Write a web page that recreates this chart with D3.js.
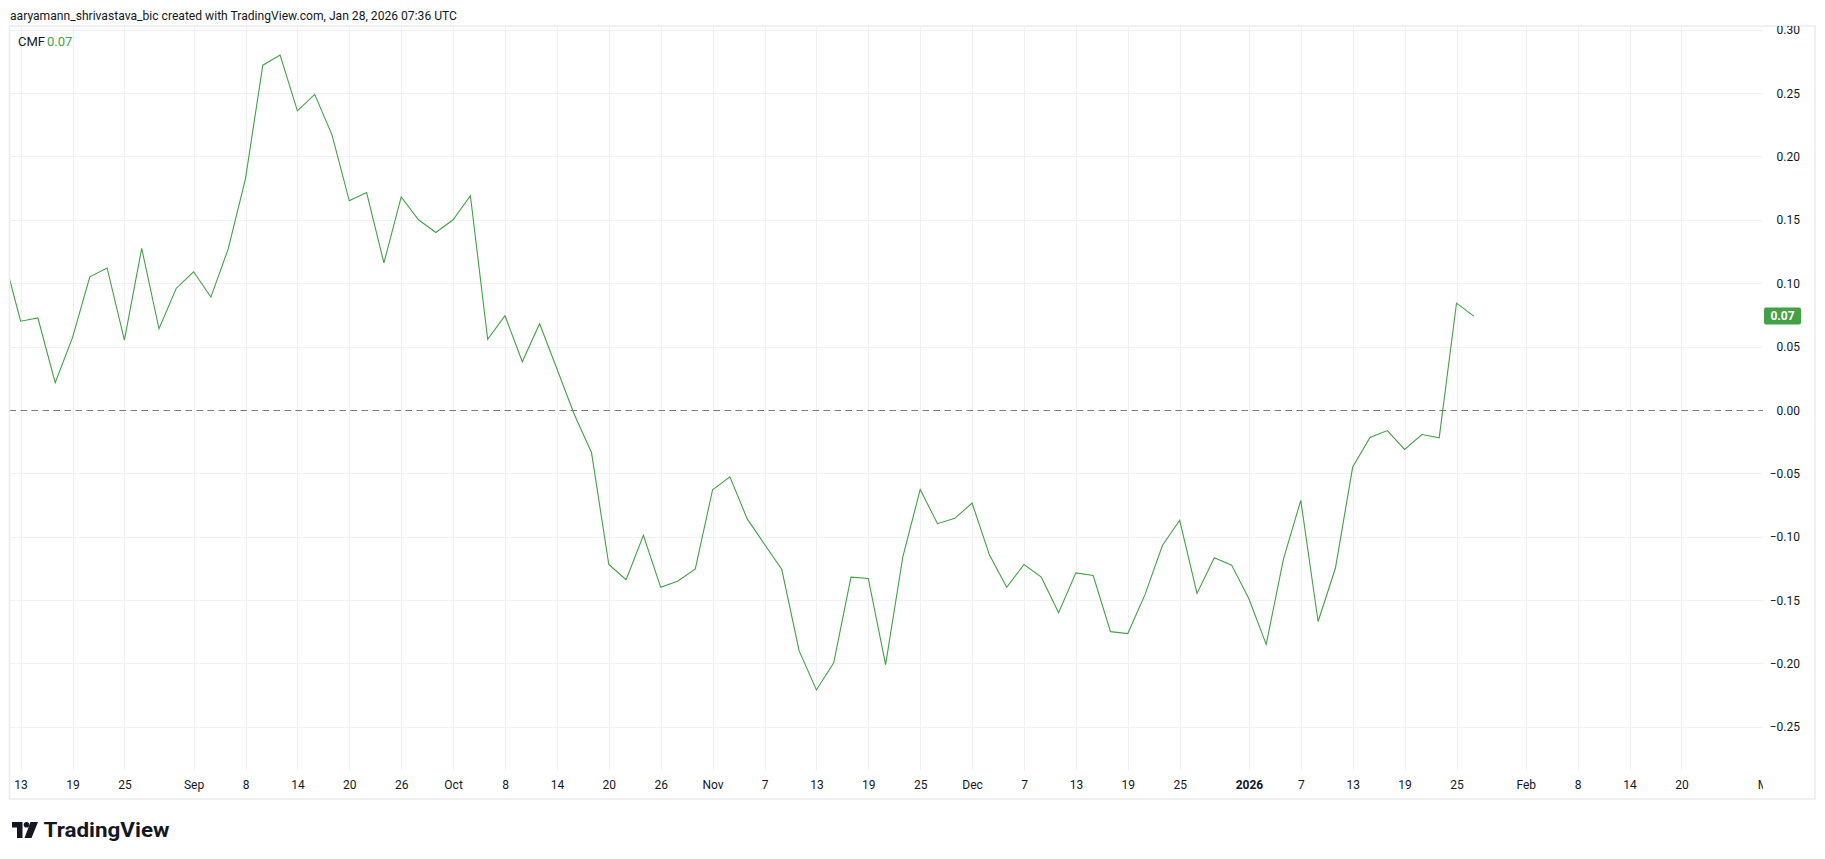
<!DOCTYPE html>
<html>
<head>
<meta charset="utf-8">
<script src="https://cdn.jsdelivr.net/npm/d3@7"></script>
<style>
	body { margin: 0; background: #fff; }
	svg { display: block; font-family: Roboto, "Liberation Sans", sans-serif; }
</style>
</head>
<body>
<div id="chart"></div>
<script>
// 2D bars (TradingView restarts the 2-day count on Jan 1)
var barDates = [
	"2025-08-11","2025-08-13","2025-08-15","2025-08-17","2025-08-19","2025-08-21","2025-08-23","2025-08-25","2025-08-27","2025-08-29","2025-08-31",
	"2025-09-02","2025-09-04","2025-09-06","2025-09-08","2025-09-10","2025-09-12","2025-09-14","2025-09-16","2025-09-18","2025-09-20","2025-09-22","2025-09-24","2025-09-26","2025-09-28","2025-09-30",
	"2025-10-02","2025-10-04","2025-10-06","2025-10-08","2025-10-10","2025-10-12","2025-10-14","2025-10-16","2025-10-18","2025-10-20","2025-10-22","2025-10-24","2025-10-26","2025-10-28","2025-10-30",
	"2025-11-01","2025-11-03","2025-11-05","2025-11-07","2025-11-09","2025-11-11","2025-11-13","2025-11-15","2025-11-17","2025-11-19","2025-11-21","2025-11-23","2025-11-25","2025-11-27","2025-11-29",
	"2025-12-01","2025-12-03","2025-12-05","2025-12-07","2025-12-09","2025-12-11","2025-12-13","2025-12-15","2025-12-17","2025-12-19","2025-12-21","2025-12-23","2025-12-25","2025-12-27","2025-12-29","2025-12-31",
	"2026-01-01","2026-01-03","2026-01-05","2026-01-07","2026-01-09","2026-01-11","2026-01-13","2026-01-15","2026-01-17","2026-01-19","2026-01-21","2026-01-23","2026-01-25","2026-01-27","2026-01-29","2026-01-31",
	"2026-02-02","2026-02-04","2026-02-06","2026-02-08","2026-02-10","2026-02-12","2026-02-14","2026-02-16","2026-02-18","2026-02-20","2026-02-22","2026-02-24","2026-02-26","2026-02-28",
	"2026-03-02"
];

var cmfValues = [
	0.122, 0.070, 0.0725, 0.0215, 0.057, 0.105, 0.112, 0.055, 0.1275, 0.064,
	0.096, 0.109, 0.089, 0.127, 0.1825, 0.272, 0.280, 0.236, 0.249, 0.217,
	0.165, 0.1715, 0.116, 0.168, 0.150, 0.140, 0.150, 0.169, 0.0556, 0.0743,
	0.038, 0.068, 0.0325, -0.0034, -0.0336, -0.122, -0.134, -0.099, -0.140, -0.135,
	-0.1255, -0.063, -0.0528, -0.086, -0.106, -0.126, -0.190, -0.221, -0.1996, -0.132,
	-0.133, -0.201, -0.1157, -0.0628, -0.0898, -0.0856, -0.0735, -0.1144, -0.140, -0.122,
	-0.132, -0.160, -0.1286, -0.1307, -0.175, -0.1765, -0.1456, -0.107, -0.0871, -0.1448,
	-0.1167, -0.1225, -0.149, -0.185, -0.1175, -0.0714, -0.167, -0.125, -0.0451, -0.0218,
	-0.0163, -0.0312, -0.0194, -0.022, 0.0842, 0.074
];

var tickDates = [
	"2025-08-13","2025-08-19","2025-08-25","2025-09-02","2025-09-08","2025-09-14","2025-09-20","2025-09-26",
	"2025-10-02","2025-10-08","2025-10-14","2025-10-20","2025-10-26","2025-11-01","2025-11-07","2025-11-13",
	"2025-11-19","2025-11-25","2025-12-01","2025-12-07","2025-12-13","2025-12-19","2025-12-25","2026-01-01",
	"2026-01-07","2026-01-13","2026-01-19","2026-01-25","2026-02-02","2026-02-08","2026-02-14","2026-02-20","2026-03-02"
];
var tickLabels = [
	"13","19","25","Sep","8","14","20","26",
	"Oct","8","14","20","26","Nov","7","13",
	"19","25","Dec","7","13","19","25","2026",
	"7","13","19","25","Feb","8","14","20","Mar"
];
var priceTicks = [0.30, 0.25, 0.20, 0.15, 0.10, 0.05, 0, -0.05, -0.10, -0.15, -0.20, -0.25];

var W = 1825, H = 859;
var pane = {left: 9.5, top: 26, right: 1763, bottom: 771};
var frame = {left: 9.5, top: 26, right: 1815, bottom: 799};
var green = "#43a047";
var textCol = "#131722";

var svg = d3.select("#chart").append("svg")
	.attr("width", W)
	.attr("height", H);

svg.append("rect").attr("width", W).attr("height", H).attr("fill", "#fff");

var xScale = d3.scalePoint()
	.domain(barDates)
	.range([3.3, 3.3 + 17.3 * (barDates.length - 1)]);
var yScale = d3.scaleLinear()
	.domain([-0.25, 0.30])
	.range([726.7, 29.7]);

var defs = svg.append("defs");
defs.append("clipPath").attr("id", "paneClip")
	.append("rect")
	.attr("x", pane.left).attr("y", pane.top)
	.attr("width", pane.right - pane.left).attr("height", pane.bottom - pane.top);
defs.append("clipPath").attr("id", "timeClip")
	.append("rect")
	.attr("x", pane.left).attr("y", pane.bottom)
	.attr("width", pane.right - pane.left).attr("height", frame.bottom - pane.bottom);
defs.append("clipPath").attr("id", "priceClip")
	.append("rect")
	.attr("x", pane.right).attr("y", pane.top)
	.attr("width", frame.right - pane.right).attr("height", frame.bottom - pane.top);

// header
svg.append("text")
	.attr("x", 10).attr("y", 15)
	.attr("dy", "0.35em")
	.attr("font-size", 13)
	.attr("fill", textCol)
	.attr("textLength", 447)
	.attr("lengthAdjust", "spacingAndGlyphs")
	.text("aaryamann_shrivastava_bic created with TradingView.com, Jan 28, 2026 07:36 UTC");

// grid
var grid = svg.append("g").attr("clip-path", "url(#paneClip)");
grid.selectAll(".hgrid")
	.data(priceTicks.filter(function(d){ return d != 0; }))
	.enter().append("line")
	.attr("class", "hgrid")
	.attr("x1", pane.left).attr("x2", pane.right)
	.attr("y1", function(d){ return Math.round(yScale(d)) + 0.5; })
	.attr("y2", function(d){ return Math.round(yScale(d)) + 0.5; })
	.attr("stroke", "#f0f1f3");
grid.selectAll(".vgrid")
	.data(tickDates)
	.enter().append("line")
	.attr("class", "vgrid")
	.attr("x1", function(d){ return Math.round(xScale(d)) + 0.5; })
	.attr("x2", function(d){ return Math.round(xScale(d)) + 0.5; })
	.attr("y1", pane.top).attr("y2", pane.bottom)
	.attr("stroke", "#f0f1f3");

// zero line
svg.append("line")
	.attr("x1", pane.left).attr("x2", pane.right)
	.attr("y1", Math.round(yScale(0)) + 0.5).attr("y2", Math.round(yScale(0)) + 0.5)
	.attr("stroke", "#787b86")
	.attr("stroke-dasharray", "6.5,4.5");

// CMF line
var line = d3.line()
	.x(function(d, i){ return xScale(barDates[i]); })
	.y(function(d){ return yScale(d); });
svg.append("path")
	.datum(cmfValues)
	.attr("clip-path", "url(#paneClip)")
	.attr("d", line)
	.attr("fill", "none")
	.attr("stroke", green)
	.attr("stroke-width", 1.1);

// frame
svg.append("rect")
	.attr("x", frame.left).attr("y", frame.top)
	.attr("width", frame.right - frame.left).attr("height", frame.bottom - frame.top)
	.attr("fill", "none")
	.attr("stroke", "#ececee")
	.attr("stroke-width", 1.5);

// time axis
var xAxis = d3.axisBottom(xScale)
	.tickValues(tickDates)
	.tickSize(0)
	.tickPadding(0)
	.tickFormat(function(d){ return tickLabels[tickDates.indexOf(d)]; });
var gx = svg.append("g")
	.attr("clip-path", "url(#timeClip)")
	.append("g")
	.attr("transform", "translate(0," + 785 + ")")
	.call(xAxis);
gx.select(".domain").remove();
gx.selectAll("text")
	.attr("y", 0).attr("dy", "0.35em")
	.attr("font-size", 12)
	.attr("font-family", "Roboto, sans-serif")
	.attr("fill", textCol)
	.attr("font-weight", function(d){ return d == "2026-01-01" ? "bold" : null; });

// price axis
var yAxis = d3.axisRight(yScale)
	.tickValues(priceTicks)
	.tickSize(0)
	.tickFormat(function(d){ return d3.format(".2f")(d).replace("-", "\u2212"); });
var gy = svg.append("g")
	.attr("clip-path", "url(#priceClip)")
	.append("g")
	.attr("transform", "translate(1800,0)")
	.call(yAxis);
gy.select(".domain").remove();
gy.selectAll("text")
	.attr("x", 0).attr("dy", "0.35em")
	.attr("text-anchor", "end")
	.attr("font-size", 12)
	.attr("font-family", "Roboto, sans-serif")
	.attr("fill", textCol);

// last value badge
var lastVal = cmfValues[cmfValues.length - 1];
svg.append("rect")
	.attr("x", 1764).attr("y", yScale(lastVal) - 8.5)
	.attr("width", 37).attr("height", 17)
	.attr("rx", 2)
	.attr("fill", green);
svg.append("text")
	.attr("x", 1782.5).attr("y", yScale(lastVal))
	.attr("dy", "0.35em")
	.attr("text-anchor", "middle")
	.attr("font-size", 12)
	.attr("font-weight", "bold")
	.attr("fill", "#fff")
	.text(d3.format(".2f")(lastVal));

// legend
svg.append("text")
	.attr("x", 18).attr("y", 41.5)
	.attr("dy", "0.35em")
	.attr("font-size", 13)
	.attr("fill", textCol)
	.text("CMF");
svg.append("text")
	.attr("x", 47).attr("y", 41.5)
	.attr("dy", "0.35em")
	.attr("font-size", 13)
	.attr("fill", green)
	.text(d3.format(".2f")(lastVal));

// TradingView logo
var logo = svg.append("g").attr("transform", "translate(12,822)");
logo.append("path")
	.attr("d", "M0,0 H10.5 V16 H5 V5.5 H0 Z")
	.attr("fill", textCol);
logo.append("circle")
	.attr("cx", 14.5).attr("cy", 2.8).attr("r", 2.8)
	.attr("fill", textCol);
logo.append("path")
	.attr("d", "M18.5,0 H26 L19.5,16 H12.5 Z")
	.attr("fill", textCol);
svg.append("text")
	.attr("x", 43.5).attr("y", 830)
	.attr("dy", "0.35em")
	.attr("font-size", 20)
	.attr("font-weight", "bold")
	.attr("fill", textCol)
	.attr("textLength", 126)
	.attr("lengthAdjust", "spacingAndGlyphs")
	.text("TradingView");
</script>
</body>
</html>
